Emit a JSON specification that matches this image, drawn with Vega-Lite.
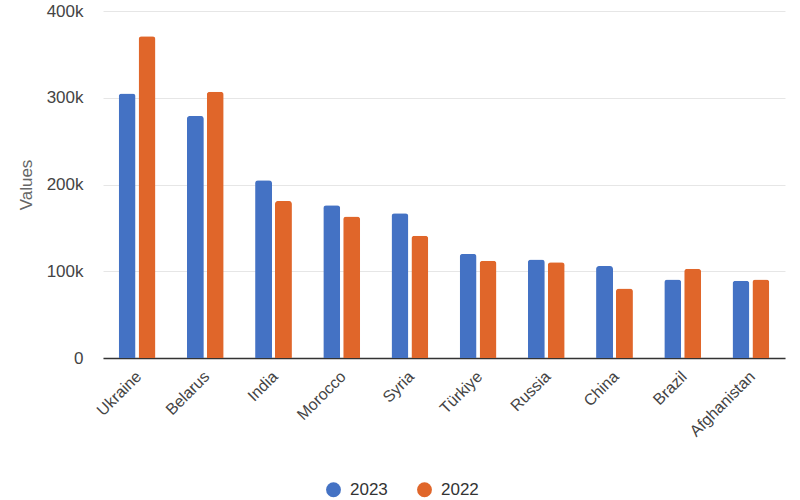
{
  "$schema": "https://vega.github.io/schema/vega-lite/v6.json",
  "width": 682,
  "height": 347,
  "autosize": "none",
  "padding": {"left": 103, "top": 11, "right": 15, "bottom": 142},
  "background": "white",
  "config": {
    "font": "Liberation Sans",
    "view": {"stroke": null}
  },
  "data": {
    "values": [
      {"country": "Ukraine", "year": "2023", "value": 305000},
      {"country": "Ukraine", "year": "2022", "value": 371000},
      {"country": "Belarus", "year": "2023", "value": 279000},
      {"country": "Belarus", "year": "2022", "value": 307000},
      {"country": "India", "year": "2023", "value": 205000},
      {"country": "India", "year": "2022", "value": 181000},
      {"country": "Morocco", "year": "2023", "value": 176000},
      {"country": "Morocco", "year": "2022", "value": 163000},
      {"country": "Syria", "year": "2023", "value": 167000},
      {"country": "Syria", "year": "2022", "value": 141000},
      {"country": "Türkiye", "year": "2023", "value": 120000},
      {"country": "Türkiye", "year": "2022", "value": 112000},
      {"country": "Russia", "year": "2023", "value": 113500},
      {"country": "Russia", "year": "2022", "value": 110500},
      {"country": "China", "year": "2023", "value": 106000},
      {"country": "China", "year": "2022", "value": 80000},
      {"country": "Brazil", "year": "2023", "value": 90500},
      {"country": "Brazil", "year": "2022", "value": 103000},
      {"country": "Afghanistan", "year": "2023", "value": 89000},
      {"country": "Afghanistan", "year": "2022", "value": 90500}
    ]
  },
  "mark": {"type": "bar", "cornerRadiusTopLeft": 3, "cornerRadiusTopRight": 3},
  "encoding": {
    "x": {
      "field": "country",
      "type": "nominal",
      "sort": null,
      "scale": {"paddingInner": 0.46, "paddingOuter": 0.23},
      "axis": {
        "title": null,
        "labelAngle": -45,
        "labelAlign": "right",
        "labelBaseline": "top",
        "labelFontSize": 16,
        "labelColor": "#444444",
        "labelPadding": 10,
        "labelOffset": -4,
        "ticks": false,
        "domainColor": "#333333",
        "domainWidth": 1.5
      }
    },
    "xOffset": {
      "field": "year",
      "type": "nominal",
      "sort": ["2023", "2022"],
      "scale": {"paddingInner": 0.15}
    },
    "y": {
      "field": "value",
      "type": "quantitative",
      "scale": {"domain": [0, 400000]},
      "axis": {
        "title": "Values",
        "titleFont": "Liberation Sans",
        "titleFontSize": 17,
        "titleFontWeight": "normal",
        "titleColor": "#666666",
        "titlePadding": 11,
        "values": [0, 100000, 200000, 300000, 400000],
        "labelExpr": "datum.value == 0 ? '0' : (datum.value / 1000) + 'k'",
        "labelFontSize": 17,
        "labelColor": "#444444",
        "labelPadding": 20,
        "ticks": false,
        "domain": false,
        "gridColor": "#e6e6e6"
      }
    },
    "color": {
      "field": "year",
      "type": "nominal",
      "sort": ["2023", "2022"],
      "scale": {"domain": ["2023", "2022"], "range": ["#4472C4", "#E0662A"]},
      "legend": {
        "title": null,
        "orient": "none",
        "legendX": 222,
        "legendY": 470,
        "direction": "horizontal",
        "symbolType": "circle",
        "symbolSize": 220,
        "symbolStrokeWidth": 0,
        "labelFontSize": 17,
        "labelColor": "#333333",
        "columnPadding": 28,
        "labelOffset": 8
      }
    }
  }
}
